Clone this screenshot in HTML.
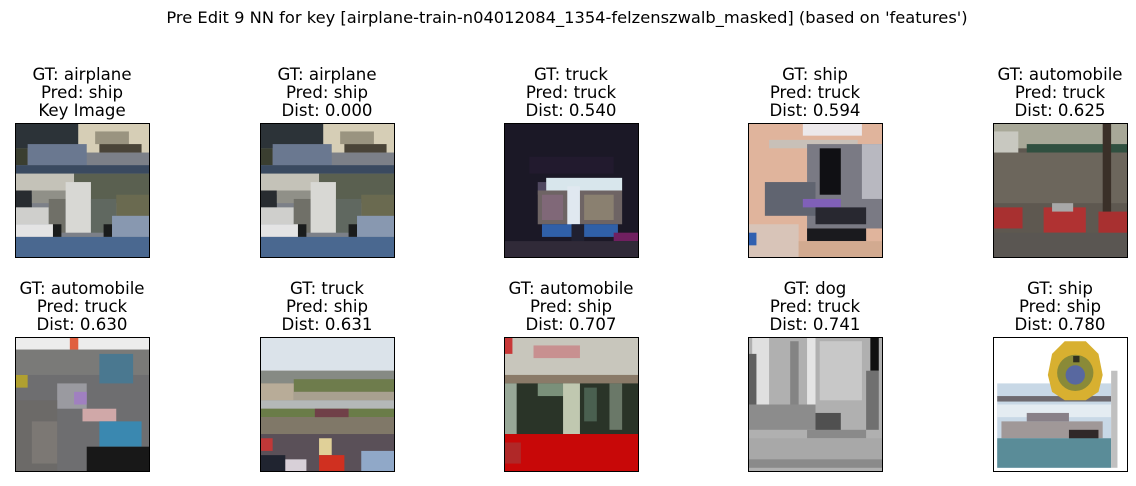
<!DOCTYPE html>
<html><head><meta charset="utf-8"><style>
html,body{margin:0;padding:0;background:#fff;}
svg{display:block;}
text{font-family:"DejaVu Sans","Liberation Sans",sans-serif;font-size:16.6px;fill:#000;text-anchor:middle;}
</style></head><body>
<svg width="1136" height="486" viewBox="0 0 1136 486" xmlns="http://www.w3.org/2000/svg">
<text x="567" y="23" style="font-size:16.3px">Pre Edit 9 NN for key [airplane-train-n04012084_1354-felzenszwalb_masked] (based on 'features')</text>

<defs>
<g id="plane">
<rect width="32" height="32" fill="#7c8088"/>
<rect x="0" y="0" width="15" height="6" fill="#2c3338"/>
<rect x="15" y="0" width="17" height="7" fill="#d6ceb6"/>
<rect x="19" y="2" width="8" height="3" fill="#9a9480"/>
<rect x="20" y="5" width="10" height="2" fill="#4a4438"/>
<rect x="0" y="6" width="3" height="4" fill="#3a3e30"/>
<rect x="3" y="5" width="14" height="5" fill="#6a7890"/>
<rect x="0" y="10" width="32" height="2" fill="#3a4a60"/>
<rect x="0" y="12" width="14" height="5" fill="#c4c2b8"/>
<rect x="14" y="12" width="18" height="7" fill="#5a6050"/>
<rect x="0" y="16" width="4" height="4" fill="#282c30"/>
<rect x="4" y="16" width="10" height="3" fill="#909088"/>
<rect x="24" y="17" width="8" height="6" fill="#6a6a50"/>
<rect x="0" y="20" width="8" height="4" fill="#cfcfcc"/>
<rect x="8" y="18" width="4" height="8" fill="#707068"/>
<rect x="12" y="14" width="6" height="12" fill="#d8d8d4"/>
<rect x="18" y="18" width="6" height="8" fill="#606860"/>
<rect x="0" y="24" width="9" height="3" fill="#e4e4e4"/>
<rect x="9" y="24" width="2" height="3" fill="#1a1c1c"/>
<rect x="21" y="24" width="2" height="3" fill="#1a1c1c"/>
<rect x="23" y="22" width="9" height="5" fill="#8898b0"/>
<rect x="0" y="27" width="32" height="5" fill="#4a6890"/>
</g>
</defs>

<!-- Row 1 -->
<text x="82" y="80">GT: airplane</text><text x="82" y="98">Pred: ship</text><text x="82" y="116">Key Image</text>
<svg x="15" y="123" width="135" height="135" viewBox="0 0 32 32" preserveAspectRatio="none"><use href="#plane"/></svg>
<rect x="15.5" y="123.5" width="134" height="134" fill="none" stroke="#000" stroke-width="1"/>

<text x="327" y="80">GT: airplane</text><text x="327" y="98">Pred: ship</text><text x="327" y="116">Dist: 0.000</text>
<svg x="260" y="123" width="135" height="135" viewBox="0 0 32 32" preserveAspectRatio="none"><use href="#plane"/></svg>
<rect x="260.5" y="123.5" width="134" height="134" fill="none" stroke="#000"/>

<text x="571" y="80">GT: truck</text><text x="571" y="98">Pred: truck</text><text x="571" y="116">Dist: 0.540</text>
<svg x="504" y="123" width="135" height="135" viewBox="0 0 32 32" preserveAspectRatio="none">
<rect width="32" height="32" fill="#1b1826"/>
<rect x="6" y="8" width="20" height="4" fill="#221a2e"/>
<rect x="8" y="14" width="2" height="3" fill="#504860"/>
<rect x="10" y="13" width="18" height="3" fill="#d8e6ec"/>
<rect x="8" y="16" width="20" height="8" fill="#6e6464"/>
<rect x="15" y="15" width="3" height="11" fill="#e0e8f0"/>
<rect x="9" y="17" width="5" height="6" fill="#806878"/>
<rect x="19" y="17" width="7" height="6" fill="#8a8070"/>
<rect x="9" y="24" width="18" height="3" fill="#3060a8"/>
<rect x="16" y="24" width="3" height="4" fill="#202030"/>
<rect x="26" y="26" width="6" height="2" fill="#702060"/>
<rect x="0" y="28" width="32" height="4" fill="#302a38"/>
</svg>
<rect x="504.5" y="123.5" width="134" height="134" fill="none" stroke="#000"/>

<text x="815" y="80">GT: ship</text><text x="815" y="98">Pred: truck</text><text x="815" y="116">Dist: 0.594</text>
<svg x="748" y="123" width="135" height="135" viewBox="0 0 32 32" preserveAspectRatio="none">
<rect width="32" height="32" fill="#e0b49c"/>
<rect x="13" y="0" width="14" height="3" fill="#ece8ea"/>
<rect x="5" y="4" width="21" height="2" fill="#c8c0b8"/>
<rect x="14" y="5" width="18" height="20" fill="#7a7a84"/>
<rect x="27" y="5" width="5" height="13" fill="#b8b8c0"/>
<rect x="17" y="6" width="5" height="11" fill="#101014"/>
<rect x="4" y="14" width="12" height="8" fill="#606470"/>
<rect x="13" y="18" width="9" height="2" fill="#8060b8"/>
<rect x="16" y="20" width="12" height="4" fill="#282830"/>
<rect x="14" y="25" width="14" height="3" fill="#1a1a1e"/>
<rect x="0" y="24" width="12" height="8" fill="#d8c4b8"/>
<rect x="0" y="26" width="2" height="3" fill="#3060b0"/>
<rect x="12" y="28" width="20" height="4" fill="#d2aa90"/>
</svg>
<rect x="748.5" y="123.5" width="134" height="134" fill="none" stroke="#000"/>

<text x="1060" y="80">GT: automobile</text><text x="1060" y="98">Pred: truck</text><text x="1060" y="116">Dist: 0.625</text>
<svg x="993" y="123" width="135" height="135" viewBox="0 0 32 32" preserveAspectRatio="none">
<rect width="32" height="32" fill="#5e5850"/>
<rect x="0" y="0" width="32" height="6" fill="#a8a898"/>
<rect x="0" y="2" width="6" height="6" fill="#c8c8c0"/>
<rect x="8" y="5" width="24" height="2" fill="#305040"/>
<rect x="0" y="7" width="32" height="12" fill="#6c665c"/>
<rect x="26" y="0" width="2" height="24" fill="#3a3028"/>
<rect x="0" y="20" width="7" height="5" fill="#a83030"/>
<rect x="12" y="20" width="10" height="6" fill="#b03232"/>
<rect x="14" y="19" width="5" height="2" fill="#a8a8a8"/>
<rect x="25" y="21" width="7" height="6" fill="#a83030"/>
<rect x="0" y="26" width="32" height="6" fill="#5a5652"/>
</svg>
<rect x="993.5" y="123.5" width="134" height="134" fill="none" stroke="#000"/>

<!-- Row 2 -->
<text x="82" y="294">GT: automobile</text><text x="82" y="312">Pred: truck</text><text x="82" y="330">Dist: 0.630</text>
<svg x="15" y="337" width="135" height="135" viewBox="0 0 32 32" preserveAspectRatio="none">
<rect width="32" height="32" fill="#6e6e70"/>
<rect x="0" y="0" width="32" height="3" fill="#ececec"/>
<rect x="13" y="0" width="2" height="3" fill="#e06040"/>
<rect x="0" y="3" width="32" height="6" fill="#7a7a78"/>
<rect x="20" y="4" width="8" height="7" fill="#4a7890"/>
<rect x="0" y="9" width="3" height="3" fill="#b0a030"/>
<rect x="10" y="11" width="7" height="6" fill="#9a9aa0"/>
<rect x="14" y="13" width="3" height="3" fill="#a080c0"/>
<rect x="16" y="17" width="8" height="3" fill="#d0a8a8"/>
<rect x="20" y="20" width="10" height="6" fill="#3a88b0"/>
<rect x="0" y="15" width="10" height="17" fill="#6c6a68"/>
<rect x="17" y="26" width="15" height="6" fill="#181818"/>
<rect x="4" y="20" width="6" height="10" fill="#7c7874"/>
</svg>
<rect x="15.5" y="337.5" width="134" height="134" fill="none" stroke="#000"/>

<text x="327" y="294">GT: truck</text><text x="327" y="312">Pred: ship</text><text x="327" y="330">Dist: 0.631</text>
<svg x="260" y="337" width="135" height="135" viewBox="0 0 32 32" preserveAspectRatio="none">
<rect width="32" height="32" fill="#8a8078"/>
<rect x="0" y="0" width="32" height="8" fill="#dbe3ea"/>
<rect x="0" y="8" width="32" height="3" fill="#868a84"/>
<rect x="8" y="10" width="24" height="3" fill="#6e7c4c"/>
<rect x="0" y="11" width="8" height="4" fill="#b8ac98"/>
<rect x="8" y="13" width="24" height="2" fill="#a8a090"/>
<rect x="0" y="15" width="32" height="2" fill="#b4b8b8"/>
<rect x="0" y="17" width="32" height="2" fill="#6a7c48"/>
<rect x="13" y="17" width="8" height="3" fill="#704048"/>
<rect x="0" y="19" width="32" height="4" fill="#807868"/>
<rect x="0" y="23" width="32" height="9" fill="#5a5058"/>
<rect x="0" y="24" width="3" height="3" fill="#c03838"/>
<rect x="14" y="24" width="3" height="4" fill="#e0d098"/>
<rect x="14" y="28" width="6" height="4" fill="#d03020"/>
<rect x="0" y="28" width="6" height="4" fill="#202430"/>
<rect x="24" y="27" width="8" height="5" fill="#90a8c8"/>
<rect x="6" y="29" width="5" height="3" fill="#d8d0d8"/>
</svg>
<rect x="260.5" y="337.5" width="134" height="134" fill="none" stroke="#000"/>

<text x="571" y="294">GT: automobile</text><text x="571" y="312">Pred: ship</text><text x="571" y="330">Dist: 0.707</text>
<svg x="504" y="337" width="135" height="135" viewBox="0 0 32 32" preserveAspectRatio="none">
<rect width="32" height="32" fill="#2a3428"/>
<rect x="0" y="0" width="32" height="9" fill="#c8c6bc"/>
<rect x="0" y="0" width="2" height="4" fill="#c83838"/>
<rect x="7" y="2" width="11" height="3" fill="#c89090"/>
<rect x="0" y="9" width="32" height="2" fill="#8a7a68"/>
<rect x="0" y="11" width="3" height="12" fill="#98a898"/>
<rect x="8" y="11" width="9" height="3" fill="#7a907a"/>
<rect x="14" y="11" width="4" height="12" fill="#c0c8b0"/>
<rect x="19" y="12" width="3" height="8" fill="#4a6050"/>
<rect x="25" y="11" width="3" height="11" fill="#6a7868"/>
<rect x="0" y="23" width="32" height="9" fill="#c80808"/>
<rect x="0" y="25" width="4" height="5" fill="#b02828"/>
</svg>
<rect x="504.5" y="337.5" width="134" height="134" fill="none" stroke="#000"/>

<text x="815" y="294">GT: dog</text><text x="815" y="312">Pred: truck</text><text x="815" y="330">Dist: 0.741</text>
<svg x="748" y="337" width="135" height="135" viewBox="0 0 32 32" preserveAspectRatio="none">
<rect width="32" height="32" fill="#b0b0b0"/>
<rect x="1" y="0" width="4" height="16" fill="#e0e0e0"/>
<rect x="0" y="4" width="2" height="12" fill="#606060"/>
<rect x="10" y="1" width="2" height="20" fill="#848484"/>
<rect x="14" y="0" width="2" height="16" fill="#e4e4e4"/>
<rect x="17" y="1" width="10" height="14" fill="#c8c8c8"/>
<rect x="29" y="0" width="2" height="8" fill="#101010"/>
<rect x="28" y="8" width="3" height="14" fill="#707070"/>
<rect x="0" y="16" width="16" height="6" fill="#8c8c8c"/>
<rect x="16" y="18" width="6" height="5" fill="#505050"/>
<rect x="14" y="22" width="14" height="2" fill="#8a8a8a"/>
<rect x="0" y="24" width="32" height="7" fill="#a8a8a8"/>
<rect x="0" y="29" width="32" height="2" fill="#8a8a8a"/>
</svg>
<rect x="748.5" y="337.5" width="134" height="134" fill="none" stroke="#000"/>

<text x="1060" y="294">GT: ship</text><text x="1060" y="312">Pred: ship</text><text x="1060" y="330">Dist: 0.780</text>
<svg x="993" y="337" width="135" height="135" viewBox="0 0 32 32" preserveAspectRatio="none">
<rect width="32" height="32" fill="#ffffff"/>
<rect x="1" y="11" width="27" height="20" fill="#c8d8e6"/>
<rect x="1" y="14" width="27" height="1.3" fill="#6e6a70"/>
<rect x="1" y="16" width="27" height="3" fill="#e4ecf2"/>
<rect x="2" y="20" width="24" height="4" fill="#a09898"/>
<rect x="8" y="18" width="10" height="2" fill="#888088"/>
<rect x="18" y="22" width="7" height="3" fill="#302828"/>
<rect x="1" y="24" width="27" height="7" fill="#5a8c98"/>
<rect x="28" y="8" width="1.5" height="23" fill="#c0c0c0"/>
<polygon points="17,1 22,1 25,4 26,9 25,13 22,15 17,15 14,13 13,9 14,4" fill="#d8b030"/>
<circle cx="19.5" cy="8.5" r="4.3" fill="#8a8a38"/>
<circle cx="19.5" cy="9" r="2.3" fill="#5868a0"/>
<rect x="19" y="4.5" width="1.5" height="1.5" fill="#303020"/>
</svg>
<rect x="993.5" y="337.5" width="134" height="134" fill="none" stroke="#000"/>
</svg>
</body></html>
